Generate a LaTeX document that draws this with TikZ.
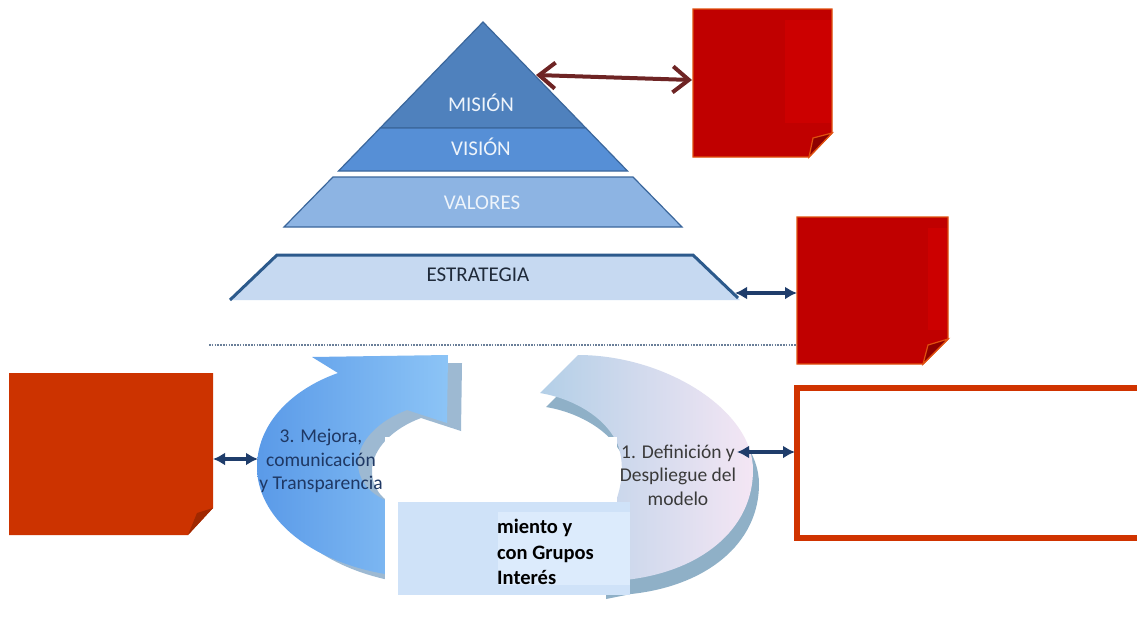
\documentclass[tikz,border=0pt]{standalone}
\usepackage{fontspec}
\setmainfont{Carlito}
\usetikzlibrary{arrows.meta}

\definecolor{misC}{HTML}{4F81BD}
\definecolor{visC}{HTML}{568FD6}
\definecolor{valC}{HTML}{8DB4E3}
\definecolor{estC}{HTML}{C6D9F1}
\definecolor{pyrEdge}{HTML}{3B679C}
\definecolor{estEdge}{HTML}{2C5A8C}
\definecolor{pyrText}{HTML}{EEF4FB}
\definecolor{estText}{HTML}{1F2A3A}
\definecolor{noteRed}{HTML}{C00000}
\definecolor{noteRedHi}{HTML}{CC0000}
\definecolor{noteRedFold}{HTML}{8E0000}
\definecolor{noteEdge}{HTML}{E0500F}
\definecolor{noteOrange}{HTML}{CC3300}
\definecolor{noteOrangeFold}{HTML}{A02800}
\definecolor{navy}{HTML}{1F3D6B}
\definecolor{maroon}{HTML}{6E2424}
\definecolor{cycA}{HTML}{5A9AE8}
\definecolor{cycB}{HTML}{8CC4F6}
\definecolor{cycSideA}{HTML}{9DB9D2}
\definecolor{cycC}{HTML}{B3CFE7}
\definecolor{cycD}{HTML}{F4E6F4}
\definecolor{cycSideB}{HTML}{8FB0C7}
\definecolor{cycTextA}{HTML}{1F3864}
\definecolor{cycTextB}{HTML}{3A3A3A}
\definecolor{boxBlue}{HTML}{CFE2F8}
\definecolor{boxBlueHi}{HTML}{DCEBFC}
\definecolor{frameRed}{HTML}{D03300}
\definecolor{dotLine}{HTML}{6A7F99}

\tikzset{
  pyrlabel/.style={text=pyrText, inner sep=0pt, font=\fontsize{21}{25}\selectfont},
  cyclabel/.style={align=center, inner sep=0pt, font=\fontsize{19.5}{23.5}\selectfont},
  navyarrow/.style={draw=navy, line width=3.5pt,
    {Latex[length=12pt,width=13pt]}-{Latex[length=12pt,width=13pt]}},
  maroonarrow/.style={draw=maroon, line width=4pt, line cap=round,
    {Straight Barb[length=16pt,width=26pt]}-{Straight Barb[length=16pt,width=26pt]}},
  notered/.style={fill=noteRed, draw=noteEdge, line width=1.4pt, line join=miter},
  noteorange/.style={fill=noteOrange},
}

\begin{document}
\begin{tikzpicture}[x=1pt,y=-1pt]
\useasboundingbox (0,0) rectangle (1137,616);
\fill[white] (0,0) rectangle (1137,616);

% ---------- pyramid ----------
\filldraw[fill=misC, draw=pyrEdge, line width=1.2pt]
  (483,22) -- (585.8,128) -- (380.2,128) -- cycle;
\filldraw[fill=visC, draw=pyrEdge, line width=1.2pt]
  (380.2,128) -- (585.8,128) -- (627.5,171) -- (338.5,171) -- cycle;
\filldraw[fill=valC, draw=pyrEdge, line width=1.2pt]
  (333,177) -- (633,177) -- (682,227) -- (284,227) -- cycle;
\fill[estC] (230,300) -- (277,255) -- (693,255) -- (740,300) -- cycle;
\draw[estEdge, line width=3pt, line join=miter]
  (230,300) -- (277,255) -- (693,255) -- (738,298);

\node[pyrlabel] (mision) at (481,103) {MISIÓN};
\node[pyrlabel] (vision) at (481,147) {VISIÓN};
\node[pyrlabel] (valores) at (482,203) {VALORES};
\node[pyrlabel, text=estText] (estrategia) at (478,275) {ESTRATEGIA};

% ---------- sticky notes at the right of the pyramid ----------
\filldraw[notered] (693,9) -- (832,9) -- (832,133) -- (809,157) -- (693,157) -- cycle;
\fill[noteRedHi] (785,20) rectangle (831,123);
\filldraw[fill=noteRedFold, draw=noteEdge, line width=1.2pt]
  (809,157) -- (832,133) -- (813,138) -- cycle;

\filldraw[notered] (797,217) -- (948,217) -- (948,339) -- (923,364) -- (797,364) -- cycle;
\fill[noteRedHi] (928,228) rectangle (947,330);
\filldraw[fill=noteRedFold, draw=noteEdge, line width=1.2pt]
  (923,364) -- (948,339) -- (928,345) -- cycle;

\coordinate (misE) at (536,75);
\coordinate (noteAW) at (692,80);
\coordinate (estE) at (735,293);
\coordinate (noteBW) at (797,293);
\draw[maroonarrow] (misE) -- (noteAW);
\draw[navyarrow] (estE) -- (noteBW);

% ---------- separator ----------
\coordinate (sepL) at (209,345);
\coordinate (sepR) at (797,345);
\draw[dotLine, line width=1.6pt, dash pattern=on 1.6pt off 1.2pt] (sepL) -- (sepR);

% ---------- cycle: arrow 3 (left) ----------
\begin{scope}[shift={(14,8)}]
  \fill[cycSideA]
    (385,574) .. controls (305,560) and (257,515) .. (257,467)
    .. controls (257,425) and (290,390) .. (338,373)
    -- (312,357) -- (448,355) -- (447,423) -- (407,410)
    .. controls (380,420) and (358,440) .. (358,463)
    .. controls (358,480) and (368,492) .. (385,500) -- cycle;
\end{scope}
\shade[left color=cycA, right color=cycB]
    (385,574) .. controls (305,560) and (257,515) .. (257,467)
    .. controls (257,425) and (290,390) .. (338,373)
    -- (312,357) -- (448,355) -- (447,423) -- (407,410)
    .. controls (380,420) and (358,440) .. (358,463)
    .. controls (358,480) and (368,492) .. (385,500) -- cycle;
\node[cyclabel, text=cycTextA] (mejora) at (321,461)
  {3. Mejora,\\comunicación\\y Transparencia};

% ---------- cycle: arrow 1 (right) ----------
\begin{scope}[shift={(6,14)}]
  \fill[cycSideB]
    (578,355) .. controls (665,355) and (753,410) .. (753,470)
    .. controls (753,530) and (700,572) .. (625,580)
    -- (600,585) -- (600,515) -- (612,510)
    .. controls (622,490) and (625,465) .. (618,445)
    .. controls (605,415) and (570,398) .. (540,393) -- cycle;
\end{scope}
\shade[left color=cycC, right color=cycD]
    (578,355) .. controls (665,355) and (753,410) .. (753,470)
    .. controls (753,530) and (700,572) .. (625,580)
    -- (600,585) -- (600,515) -- (612,510)
    .. controls (622,490) and (625,465) .. (618,445)
    .. controls (605,415) and (570,398) .. (540,393) -- cycle;
\node[cyclabel, text=cycTextB] (definicion) at (678,475)
  {1. Definición y\\Despliegue del\\modelo};

% ---------- covering boxes in the middle of the cycle ----------
\fill[white] (385,437) rectangle (617,584);
\fill[boxBlue] (398,502) rectangle (630,595);
\fill[boxBlueHi] (498,512) rectangle (630,585);
\node[anchor=west, align=left, inner sep=0pt,
      font=\bfseries\fontsize{20.5}{25.5}\selectfont] (seguimiento) at (497,552)
  {miento y\\con Grupos\\Interés};

% ---------- left sticky note ----------
\fill[noteorange] (9,373) -- (213,373) -- (213,508) -- (188,535) -- (9,535) -- cycle;
\fill[noteOrangeFold] (188,535) -- (213,508) -- (197,513) -- cycle;

% ---------- right framed box ----------
\draw[frameRed, line width=6pt, line join=miter] (797,388) rectangle (1150,538);

% ---------- cycle connectors ----------
\coordinate (noteCE) at (213,459);
\coordinate (mejoraW) at (258,459);
\coordinate (defE) at (737,452);
\coordinate (frameW) at (795,452);
\draw[navyarrow] (noteCE) -- (mejoraW);
\draw[navyarrow] (defE) -- (frameW);
\end{tikzpicture}
\end{document}
